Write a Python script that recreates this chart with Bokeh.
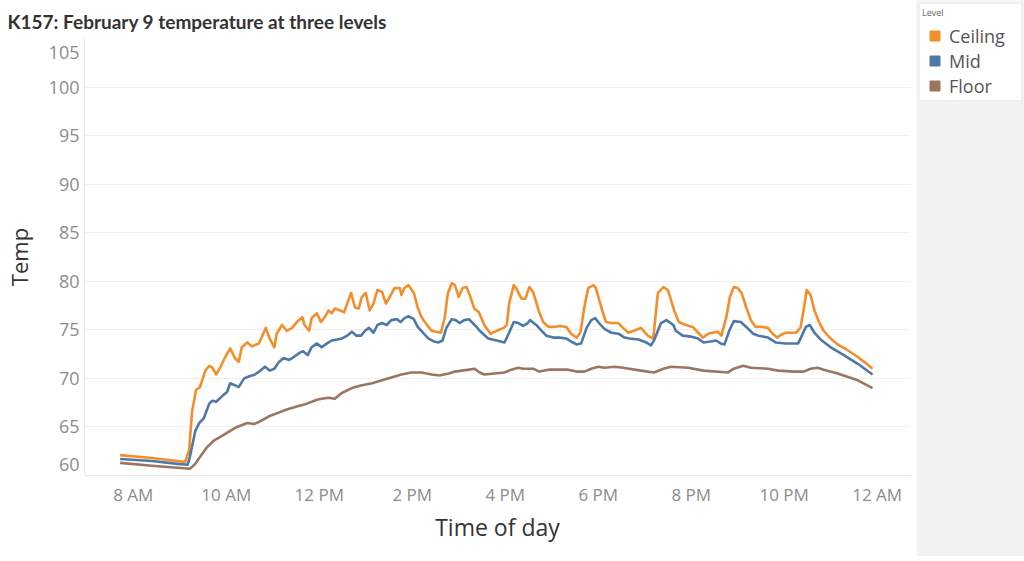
from bokeh.plotting import figure
from bokeh.models import (FixedTicker, Legend, LegendItem, Range1d, Grid, LinearAxis,
                          CustomJSTickFormatter)
from bokeh.layouts import row
from bokeh.embed import file_html
from bokeh.resources import INLINE

TITLE_FONT = "Lato"
FONT = "Open Sans"

levels = ["Ceiling", "Mid", "Floor"]
colors = ["#f28e2b", "#4e79a7", "#9c755f"]

# minutes after midnight, temperature (°F)
ceiling_minutes = [463, 504, 537, 547, 552, 556, 561, 566, 573, 578,
                   582, 587, 592, 598, 605, 611, 616, 620, 627, 633,
                   642, 651, 656, 662, 665, 672, 678, 685, 691, 698,
                   701, 707, 710, 717, 722, 727, 732, 736, 740, 747,
                   752, 756, 761, 766, 771, 775, 780, 785, 790, 795,
                   801, 806, 811, 817, 824, 826, 830, 835, 842, 847,
                   852, 859, 865, 871, 877, 882, 886, 891, 895, 900,
                   905, 910, 915, 920, 926, 933, 941, 949, 958, 962,
                   965, 971, 974, 981, 986, 991, 996, 1003, 1009, 1016,
                   1023, 1030, 1039, 1045, 1052, 1057, 1062, 1067, 1074, 1077,
                   1084, 1090, 1097, 1106, 1112, 1119, 1126, 1135, 1144, 1151,
                   1157, 1164, 1170, 1178, 1184, 1193, 1202, 1209, 1215, 1222,
                   1227, 1234, 1239, 1245, 1250, 1255, 1260, 1265, 1271, 1277,
                   1283, 1292, 1299, 1305, 1311, 1316, 1322, 1329, 1335, 1341,
                   1345, 1349, 1354, 1359, 1365, 1371, 1380, 1389, 1402, 1415,
                   1425, 1434]
ceiling_temp = [62.1, 61.8, 61.5, 61.4, 62.6, 66.7, 68.8, 69.1, 70.8, 71.3,
                71.1, 70.4, 71.1, 72.1, 73.1, 72.1, 71.7, 73.2, 73.7, 73.3,
                73.6, 75.2, 74.1, 73.2, 74.6, 75.5, 74.9, 75.2, 75.8, 76.3,
                75.5, 74.9, 76.2, 76.7, 75.8, 76.3, 77.0, 76.7, 77.2, 77.0,
                76.8, 77.7, 78.8, 77.3, 77.2, 78.4, 78.8, 77.0, 77.7, 79.1,
                78.9, 77.7, 78.4, 79.3, 79.3, 78.6, 79.3, 79.6, 78.8, 77.3,
                76.3, 75.5, 74.9, 74.8, 74.7, 76.3, 78.8, 79.8, 79.6, 78.4,
                79.3, 79.4, 78.4, 77.2, 76.8, 75.5, 74.6, 74.9, 75.2, 75.5,
                77.7, 79.6, 79.3, 78.2, 78.2, 79.4, 78.9, 77.0, 75.8, 75.3,
                75.3, 75.4, 75.3, 74.6, 74.2, 74.7, 77.3, 79.3, 79.6, 79.3,
                77.3, 75.8, 75.7, 75.7, 75.2, 74.7, 74.9, 75.2, 74.4, 74.1,
                78.8, 79.4, 79.1, 77.0, 75.8, 75.5, 75.3, 74.7, 74.2, 74.6,
                74.7, 74.8, 74.4, 76.2, 78.4, 79.4, 79.3, 78.8, 77.3, 76.0,
                75.3, 75.3, 75.2, 74.6, 74.2, 74.5, 74.7, 74.7, 74.7, 75.2,
                77.0, 79.1, 78.6, 77.0, 75.8, 74.9, 74.1, 73.5, 72.9, 72.2,
                71.6, 71.0]

mid_minutes = [463, 504, 537, 550, 553, 560, 565, 571, 578, 582,
               587, 595, 601, 605, 611, 616, 623, 629, 637, 644,
               650, 656, 662, 668, 674, 681, 687, 694, 699, 705,
               710, 717, 723, 730, 736, 743, 749, 756, 762, 768,
               774, 779, 784, 790, 795, 801, 807, 813, 820, 825,
               830, 835, 842, 847, 855, 861, 868, 874, 879, 884,
               891, 896, 901, 907, 913, 918, 923, 927, 938, 949,
               959, 965, 971, 977, 983, 989, 992, 1000, 1007, 1013,
               1022, 1030, 1039, 1045, 1052, 1058, 1065, 1071, 1076, 1081,
               1088, 1097, 1106, 1114, 1120, 1132, 1142, 1148, 1152, 1161,
               1168, 1177, 1180, 1189, 1200, 1209, 1216, 1225, 1232, 1238,
               1243, 1249, 1255, 1264, 1271, 1280, 1287, 1299, 1309, 1322,
               1338, 1341, 1348, 1353, 1359, 1367, 1380, 1397, 1415, 1434]
mid_temp = [61.7, 61.5, 61.2, 61.1, 61.9, 64.6, 65.4, 65.9, 67.4, 67.7,
            67.6, 68.2, 68.6, 69.5, 69.3, 69.1, 70.0, 70.2, 70.4, 70.8,
            71.2, 70.8, 71.0, 71.7, 72.1, 71.9, 72.2, 72.6, 72.8, 72.4,
            73.2, 73.6, 73.2, 73.6, 73.9, 74.0, 74.1, 74.4, 74.8, 74.4,
            74.4, 74.9, 75.2, 74.7, 75.5, 75.7, 75.5, 76.0, 76.1, 75.8,
            76.2, 76.4, 76.1, 75.3, 74.6, 74.1, 73.8, 73.7, 73.9, 75.2,
            76.1, 76.0, 75.7, 76.0, 76.1, 75.7, 75.3, 74.9, 74.1, 73.9,
            73.7, 74.7, 75.8, 75.7, 75.4, 75.7, 76.0, 75.5, 74.9, 74.4,
            74.2, 74.2, 74.1, 73.8, 73.5, 73.6, 75.2, 76.0, 76.2, 75.7,
            75.1, 74.7, 74.6, 74.2, 74.1, 74.0, 73.7, 73.4, 73.9, 75.7,
            76.0, 75.5, 74.9, 74.4, 74.3, 74.1, 73.7, 73.8, 73.9, 73.6,
            73.5, 74.9, 75.9, 75.8, 75.3, 74.6, 74.4, 74.2, 73.7, 73.6,
            73.6, 74.1, 75.3, 75.5, 74.7, 74.0, 73.2, 72.4, 71.5, 70.4]

floor_minutes = [463, 504, 537, 553, 560, 566, 575, 584, 595, 605,
                 614, 627, 636, 644, 655, 665, 678, 691, 704, 717,
                 723, 732, 740, 749, 762, 775, 788, 801, 813, 826,
                 839, 852, 865, 875, 887, 895, 904, 913, 920, 927,
                 933, 946, 959, 968, 977, 983, 990, 996, 1004, 1016,
                 1028, 1041, 1052, 1062, 1071, 1080, 1088, 1101, 1112, 1120,
                 1135, 1152, 1164, 1174, 1196, 1216, 1247, 1255, 1267, 1277,
                 1299, 1312, 1332, 1345, 1354, 1363, 1371, 1389, 1415, 1434]
floor_temp = [61.3, 61.0, 60.8, 60.7, 61.2, 61.9, 62.9, 63.6, 64.1, 64.6,
              65.0, 65.4, 65.3, 65.6, 66.1, 66.4, 66.8, 67.1, 67.4, 67.8,
              67.9, 68.0, 67.9, 68.5, 69.0, 69.3, 69.5, 69.8, 70.1, 70.4,
              70.6, 70.6, 70.4, 70.3, 70.5, 70.7, 70.8, 70.9, 71.0, 70.6,
              70.4, 70.5, 70.6, 70.9, 71.1, 71.0, 71.0, 71.0, 70.7, 70.9,
              70.9, 70.9, 70.7, 70.7, 71.0, 71.2, 71.1, 71.2, 71.1, 71.0,
              70.8, 70.6, 71.0, 71.2, 71.1, 70.8, 70.6, 71.0, 71.3, 71.1,
              71.0, 70.8, 70.7, 70.7, 71.0, 71.1, 70.9, 70.5, 69.8, 69.0]

x_tick_minutes = [480, 600, 720, 840, 960, 1080, 1200, 1320, 1440]
x_tick_labels = ["8 AM", "10 AM", "12 PM", "2 PM", "4 PM", "6 PM", "8 PM", "10 PM", "12 AM"]
y_ticks = [60, 65, 70, 75, 80, 85, 90, 95, 100, 105]

series = [(ceiling_minutes, ceiling_temp), (mid_minutes, mid_temp), (floor_minutes, floor_temp)]

W, H = 916, 556
FRAME_TOP, FRAME_BOTTOM = 38, 475
Y0, Y1 = 60, 105
p = figure(width=W, height=H, output_backend="svg", toolbar_location=None,
           x_range=Range1d(417, 1483), y_range=Range1d(Y0, Y1), y_axis_location=None,
           min_border_left=82, min_border_right=6, min_border_top=FRAME_TOP,
           min_border_bottom=H - FRAME_BOTTOM,
           title="K157: February 9 temperature at three levels")
p.title.text_font = TITLE_FONT
p.title.text_font_size = "19px"
p.title.text_font_style = "bold"
p.title.text_color = "#333333"
p.title.align = "left"
p.title.offset = -77
p.title.standoff = 11
p.outline_line_color = None
p.background_fill_color = "white"
p.border_fill_color = "white"

p.xgrid.grid_line_color = None
p.add_layout(Grid(dimension=1, ticker=FixedTicker(ticks=y_ticks),
                  grid_line_color="#efefef", grid_line_width=1))

p.xaxis.ticker = FixedTicker(ticks=x_tick_minutes)
p.xaxis.major_label_overrides = {m: lab for m, lab in zip(x_tick_minutes, x_tick_labels)}

# Y labels: as in the original, the two edge labels sit pulled inward from the frame edges.
frame_h = FRAME_BOTTOM - FRAME_TOP
label_pos = [(v - Y0) / (Y1 - Y0) for v in y_ticks]
label_pos[0] = 11 / frame_h
label_pos[-1] = 1 - 14 / frame_h
p.extra_y_ranges = {"labels": Range1d(0, 1)}
yax = LinearAxis(y_range_name="labels", ticker=FixedTicker(ticks=label_pos),
                 formatter=CustomJSTickFormatter(args=dict(lab=[str(v) for v in y_ticks]),
                                                 code="return lab[index]"))
p.add_layout(yax, "left")

for ax in (p.xaxis[0], yax):
    ax.axis_line_color = "#e8e8e8"
    ax.major_tick_line_color = None
    ax.minor_tick_line_color = None
    ax.major_tick_out = 0
    ax.major_tick_in = 0
    ax.minor_tick_out = 0
    ax.major_label_text_font = FONT
    ax.major_label_text_color = "#8c8c8c"
    ax.axis_label_text_font = FONT
    ax.axis_label_text_font_style = "normal"
    ax.axis_label_text_color = "#333333"

p.xaxis.axis_label = "Time of day"
p.xaxis.major_label_text_font_size = "17px"
p.xaxis.axis_label_text_font_size = "23px"
p.xaxis.major_label_standoff = 7
p.xaxis.axis_label_standoff = 2

yax.axis_label = "Temp"
yax.major_label_text_font_size = "18px"
yax.axis_label_text_font_size = "22px"
yax.major_label_standoff = 5
yax.axis_label_standoff = 12

for (xs, ys), c in zip(series, colors):
    p.line(xs, ys, line_color=c, line_width=2.6, line_join="round")

# legend panel
lg = figure(width=1024 - W, height=H, output_backend="svg", toolbar_location=None,
            x_range=Range1d(0, 1), y_range=Range1d(0, 1),
            x_axis_type=None, y_axis_type=None, min_border=0)
if "frame_align" in lg.properties():
    lg.frame_align = False
lg.background_fill_color = "#f2f2f2"
lg.border_fill_color = "#f2f2f2"
lg.outline_line_color = None
items = []
for name, (xs, ys), c in zip(levels, series, colors):
    # same data, outside this panel's view: only its legend swatch shows
    r = lg.scatter(xs, ys, marker="square", size=10, fill_color=c, line_color=c)
    items.append(LegendItem(label=name, renderers=[r]))
legend = Legend(items=items, location="top_left", title="Level")
legend.margin = 3
legend.padding = 2
legend.spacing = 0
legend.label_height = 25
legend.label_width = 70
legend.glyph_width = 25
legend.glyph_height = 25
legend.label_standoff = 2
legend.label_text_font = FONT
legend.label_text_font_size = "18px"
legend.label_text_color = "#555555"
legend.title_text_font = FONT
legend.title_text_font_size = "9px"
legend.title_text_font_style = "normal"
legend.title_text_color = "#666666"
legend.title_standoff = 4
legend.border_line_color = "#dddddd"
legend.background_fill_color = "white"
legend.background_fill_alpha = 1.0
lg.add_layout(legend)

layout = row(p, lg)
open("out.html", "w").write(file_html(layout, INLINE))
